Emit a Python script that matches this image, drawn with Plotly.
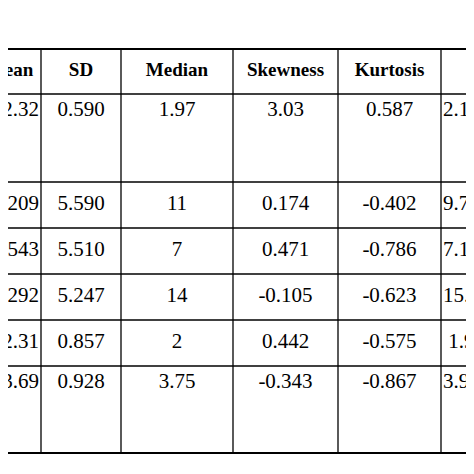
import plotly.graph_objects as go

headers = ["Mean", "SD", "Median", "Skewness", "Kurtosis", "Range"]
mean = ["2.32", "11.209", "7.543", "13.292", "2.31", "3.69"]
sd = ["0.590", "5.590", "5.510", "5.247", "0.857", "0.928"]
median = ["1.97", "11", "7", "14", "2", "3.75"]
skewness = ["3.03", "0.174", "0.471", "-0.105", "0.442", "-0.343"]
kurtosis = ["0.587", "-0.402", "-0.786", "-0.623", "-0.575", "-0.867"]
rng = ["2.1 - 4.9", "9.73 - 12.7", "7.13 - 9.9", "15.0 - 17.6", " 1.9 - 2.7", "3.98 - 4.5"]

# table geometry in pixels (page is 474x474, plot area fills it)
col_edges = [-47, 33, 113, 225, 330, 433, 540]
row_edges = [41, 86, 174, 220, 266, 312, 358, 445]
tall_rows = {0, 5}
font = "Liberation Serif"

fig = go.Figure()

# header
hx = [(col_edges[i] + col_edges[i + 1]) / 2 for i in range(len(headers))]
hx[0] = 2
hx[-1] = 500
fig.add_trace(go.Scatter(
    x=hx, y=[(row_edges[0] + row_edges[1]) / 2] * len(headers),
    text=["<b>%s</b>" % h for h in headers], mode="text",
    textfont=dict(family=font, size=19, color="black"), hoverinfo="skip"))

columns = [mean, sd, median, skewness, kurtosis, rng]
for ci, col in enumerate(columns):
    xs, ys = [], []
    for ri, val in enumerate(col):
        top, bot = row_edges[ri + 1], row_edges[ri + 2]
        ys.append(top + 17 if ri in tall_rows else (top + bot) / 2)
        if ci == 0:
            xs.append(31)
        elif ci == len(columns) - 1:
            xs.append(435)
        else:
            xs.append((col_edges[ci] + col_edges[ci + 1]) / 2)
    pos = "middle center"
    if ci == 0:
        pos = "middle left"
    elif ci == len(columns) - 1:
        pos = "middle right"
    fig.add_trace(go.Scatter(
        x=xs, y=ys, text=col, mode="text", textposition=pos,
        textfont=dict(family=font, size=21, color="black"), hoverinfo="skip"))

shapes = []
for y in row_edges:
    shapes.append(dict(type="line", x0=-10, x1=490, y0=y, y1=y,
                       line=dict(color="black", width=1.3 if y not in (41, 445) else 1.8)))
for x in col_edges[1:-1]:
    shapes.append(dict(type="line", x0=x, x1=x, y0=row_edges[0], y1=row_edges[-1],
                       line=dict(color="black", width=1.3)))

fig.update_layout(
    width=474, height=474, margin=dict(l=0, r=0, t=0, b=0),
    plot_bgcolor="white", paper_bgcolor="white", showlegend=False,
    shapes=shapes,
    xaxis=dict(range=[0, 474], visible=False, fixedrange=True),
    yaxis=dict(range=[474, 0], visible=False, fixedrange=True),
)
fig.write_html("out.html")
